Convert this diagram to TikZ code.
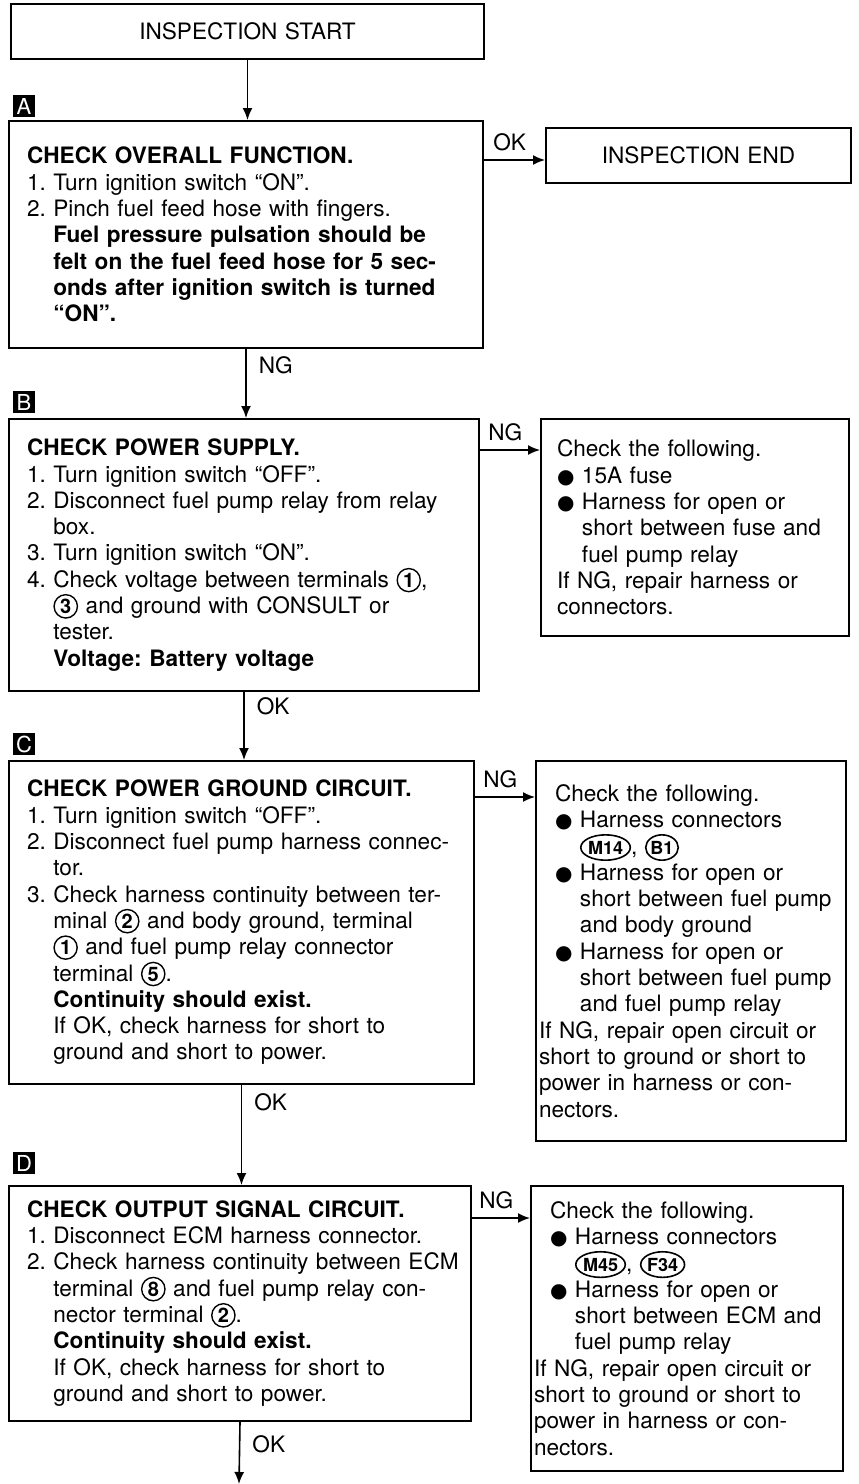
\documentclass[tikz,border=0pt]{standalone}
\usepackage{fontspec}
\setmainfont{TeX Gyre Heros}
\newfontfamily\symf{DejaVu Sans}
\usetikzlibrary{arrows.meta,positioning,shapes.geometric}

\newcommand{\numind}{\phantom{1.\ }}
\newcommand{\bul}{{\symf\fontsize{10}{10}\selectfont ●}\ }
\newcommand{\bulind}{\phantom{\bul}}
\newcommand{\lead}{\hspace*{8pt}}
\newcommand{\term}[1]{\tikz[baseline=(c.base)]\node[draw,circle,line width=0.7pt,inner sep=0.9pt,minimum width=0pt,minimum height=0pt,font=\bfseries\fontsize{10}{10}\selectfont](c){#1};}
\newcommand{\conn}[1]{\tikz[baseline=(e.base)]\node[draw,ellipse,line width=0.8pt,inner xsep=0pt,inner ysep=1.2pt,minimum width=0pt,minimum height=0pt,font=\bfseries\fontsize{9}{10}\selectfont](e){#1};}

\begin{document}
\begin{tikzpicture}[x=0.5pt,y=-0.5pt,
  box/.style={draw,line width=1pt,anchor=north west,inner xsep=9pt,inner ysep=4pt,align=left,font=\fontsize{11.3}{13.15}\selectfont\frenchspacing},
  stepbox/.style={fill=black,text=white,inner sep=0pt,minimum size=11pt,font=\fontsize{11}{11}\selectfont},
  arr/.style={-{Latex[length=6pt,width=5pt]},line width=0.8pt},
  lbl/.style={font=\fontsize{11.3}{12}\selectfont,inner sep=0pt}]
\useasboundingbox (0,0) rectangle (858,1484);

\node[box,align=center,text width=218.5pt,minimum height=27.5pt] (start) at (10,3) {INSPECTION START};

% step A
\node[stepbox] (labA) at (24,106) {A};
\node[box,text width=219pt,minimum height=113.5pt] (chkA) at (8,120) {\textbf{CHECK OVERALL FUNCTION.}\\
1. Turn ignition switch “ON”.\\
2. Pinch fuel feed hose with fingers.\\
\numind\textbf{Fuel pressure pulsation should be}\\
\numind\textbf{felt on the fuel feed hose for 5 sec-}\\
\numind\textbf{onds after ignition switch is turned}\\
\numind\textbf{“ON”.}};
\node[box,align=center,text width=134.5pt,minimum height=27.5pt] (done) at (545,127) {INSPECTION END};

% step B
\node[stepbox] (labB) at (24,402) {B};
\node[box,text width=217pt,minimum height=136pt] (chkB) at (8,418) {\textbf{CHECK POWER SUPPLY.}\\
1. Turn ignition switch “OFF”.\\
2. Disconnect fuel pump relay from relay\\
\numind box.\\
3. Turn ignition switch “ON”.\\
4. Check voltage between terminals \term{1},\\
\numind\term{3} and ground with CONSULT or\\
\numind tester.\\
\numind\textbf{Voltage: Battery voltage}};
\node[box,inner xsep=8pt,text width=138pt,minimum height=108.5pt] (fixB) at (540,418) {Check the following.\\
\bul 15A fuse\\
\bul Harness for open or\\
\bulind short between fuse and\\
\bulind fuel pump relay\\
If NG, repair harness or\\
connectors.};

% step C
\node[stepbox] (labC) at (24,744) {C};
\node[box,text width=214.5pt,minimum height=161.5pt] (chkC) at (8,760) {\textbf{CHECK POWER GROUND CIRCUIT.}\\
1. Turn ignition switch “OFF”.\\
2. Disconnect fuel pump harness connec-\\
\numind tor.\\
3. Check harness continuity between ter-\\
\numind minal \term{2} and body ground, terminal\\
\numind\term{1} and fuel pump relay connector\\
\numind terminal \term{5}.\\
\numind\textbf{Continuity should exist.}\\
\numind If OK, check harness for short to\\
\numind ground and short to power.};
\node[box,inner xsep=1.5pt,text width=152pt,minimum height=190pt] (fixC) at (535,760) {\lead Check the following.\\
\lead\bul Harness connectors\\
\lead\bulind\conn{M14}, \conn{B1}\\
\lead\bul Harness for open or\\
\lead\bulind short between fuel pump\\
\lead\bulind and body ground\\
\lead\bul Harness for open or\\
\lead\bulind short between fuel pump\\
\lead\bulind and fuel pump relay\\
If NG, repair open circuit or\\
short to ground or short to\\
power in harness or con-\\
nectors.};

% step D
\node[stepbox] (labD) at (24,1163) {D};
\node[box,text width=213pt,minimum height=117.5pt] (chkD) at (8,1185) {\textbf{CHECK OUTPUT SIGNAL CIRCUIT.}\\
1. Disconnect ECM harness connector.\\
\mbox{2. Check harness continuity between ECM}\\
\numind terminal \term{8} and fuel pump relay con-\\
\numind nector terminal \term{2}.\\
\numind\textbf{Continuity should exist.}\\
\numind If OK, check harness for short to\\
\numind ground and short to power.};
\node[box,inner xsep=1.5pt,text width=153pt,minimum height=142.5pt] (fixD) at (530,1185) {\lead Check the following.\\
\lead\bul Harness connectors\\
\lead\bulind\conn{M45}, \conn{F34}\\
\lead\bul Harness for open or\\
\lead\bulind short between ECM and\\
\lead\bulind fuel pump relay\\
If NG, repair open circuit or\\
short to ground or short to\\
power in harness or con-\\
nectors.};
\coordinate (next) at (239,1484);

% connectors
\draw[arr] (start.south) -- (start.south |- chkA.north);
\draw[arr] ([yshift=-20pt]chkA.north east) -- node[lbl,pos=0.42,above=4pt] {OK} ([yshift=-20pt]chkA.north east -| done.west);
\draw[arr] (chkA.south) -- node[lbl,pos=0.23,right=6pt] {NG} (chkA.south |- chkB.north);
\draw[arr] ([yshift=-16pt]chkB.north east) -- node[lbl,pos=0.42,above=4pt] {NG} ([yshift=-16pt]chkB.north east -| fixB.west);
\draw[arr] (chkB.south) -- node[lbl,pos=0.21,right=6pt] {OK} (chkB.south |- chkC.north);
\draw[arr] ([yshift=-18.5pt]chkC.north east) -- node[lbl,pos=0.42,above=4pt] {NG} ([yshift=-18.5pt]chkC.north east -| fixC.west);
\draw[arr] (chkC.south) -- node[lbl,pos=0.17,right=6pt] {OK} (chkC.south |- chkD.north);
\draw[arr] ([yshift=-16.5pt]chkD.north east) -- node[lbl,pos=0.42,above=4pt] {NG} ([yshift=-16.5pt]chkD.north east -| fixD.west);
\draw[arr] (chkD.south) -- node[lbl,pos=0.36,right=6pt] {OK} (next);
\end{tikzpicture}
\end{document}
